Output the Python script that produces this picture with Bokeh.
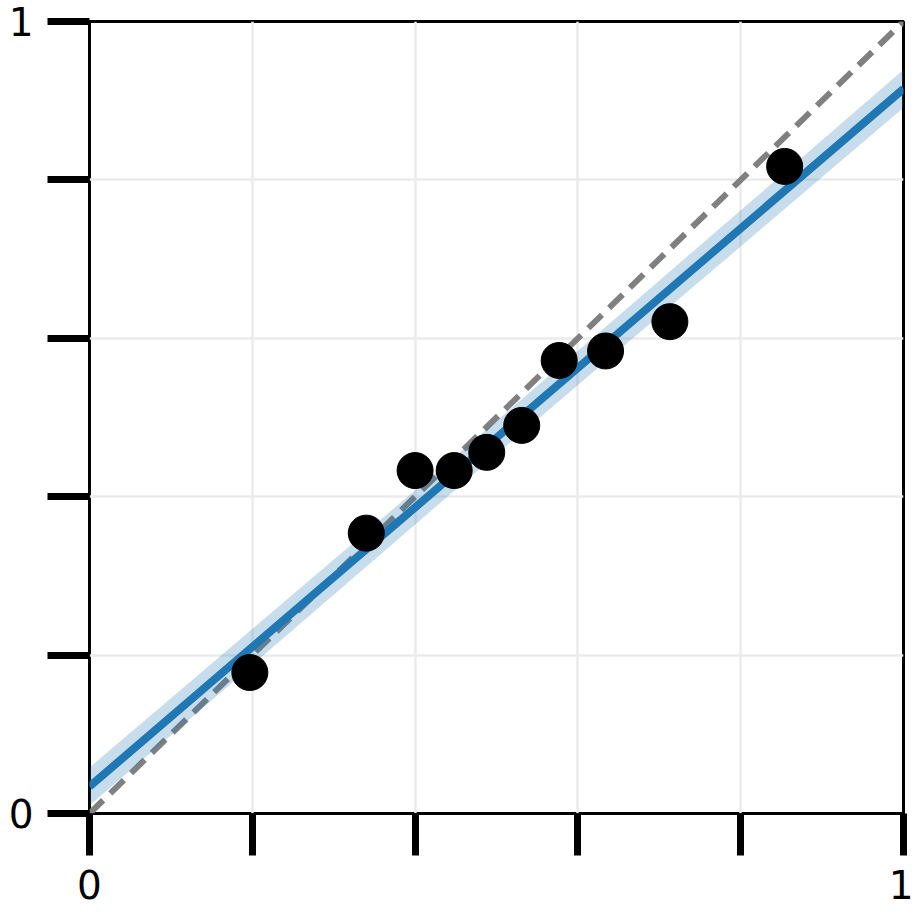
from bokeh.plotting import figure
from bokeh.models import Range1d, FixedTicker
from bokeh.embed import file_html
from bokeh.resources import INLINE

# data
x_obs = [0.197, 0.340, 0.400, 0.448, 0.488, 0.531, 0.577, 0.634, 0.713, 0.854]
y_obs = [0.178, 0.354, 0.433, 0.433, 0.456, 0.490, 0.572, 0.584, 0.621, 0.817]
fit_x = [0.0, 0.5, 1.0]
fit_intercept = 0.034
fit_slope = 0.881
ci_half = [0.024, 0.021, 0.024]
ticks = [0.0, 0.2, 0.4, 0.6, 0.8, 1.0]
tick_labels = {0.0: "0", 0.2: "", 0.4: "", 0.6: "", 0.8: "", 1.0: "1"}

fit_y = [fit_intercept + fit_slope * v for v in fit_x]
lo = [f - c for f, c in zip(fit_y, ci_half)]
hi = [f + c for f, c in zip(fit_y, ci_half)]

p = figure(width=913, height=908, output_backend="svg", toolbar_location=None,
           x_range=Range1d(0, 1), y_range=Range1d(0, 1),
           min_border_left=89, min_border_right=10, min_border_top=21, min_border_bottom=95)

p.outline_line_color = "black"
p.outline_line_width = 3
p.background_fill_color = "white"
p.border_fill_color = "white"

for ax in (p.xaxis[0], p.yaxis[0]):
    ax.ticker = FixedTicker(ticks=ticks)
    ax.major_label_overrides = tick_labels
    ax.axis_line_color = None
    ax.major_tick_in = 0
    ax.major_tick_out = 42
    ax.major_tick_line_width = 7
    ax.major_tick_line_color = "black"
    ax.minor_tick_line_color = None
    ax.major_label_text_font = "DejaVu Sans"
    ax.major_label_text_font_size = "39px"
    ax.major_label_text_color = "black"
    ax.major_label_standoff = 14

p.grid.ticker = FixedTicker(ticks=ticks)
p.grid.grid_line_color = "#ebebeb"
p.grid.grid_line_width = 2.5

p.line([0, 1], [0, 1], line_color="#808080", line_width=6, line_dash="19 10")
p.varea(x=fit_x, y1=lo, y2=hi, fill_color="#1f77b4", fill_alpha=0.25)
p.line(fit_x, fit_y, line_color="#1f77b4", line_width=8)
p.scatter(x_obs, y_obs, size=36, fill_color="black", line_color="black")

open("out.html", "w").write(file_html(p, INLINE))
